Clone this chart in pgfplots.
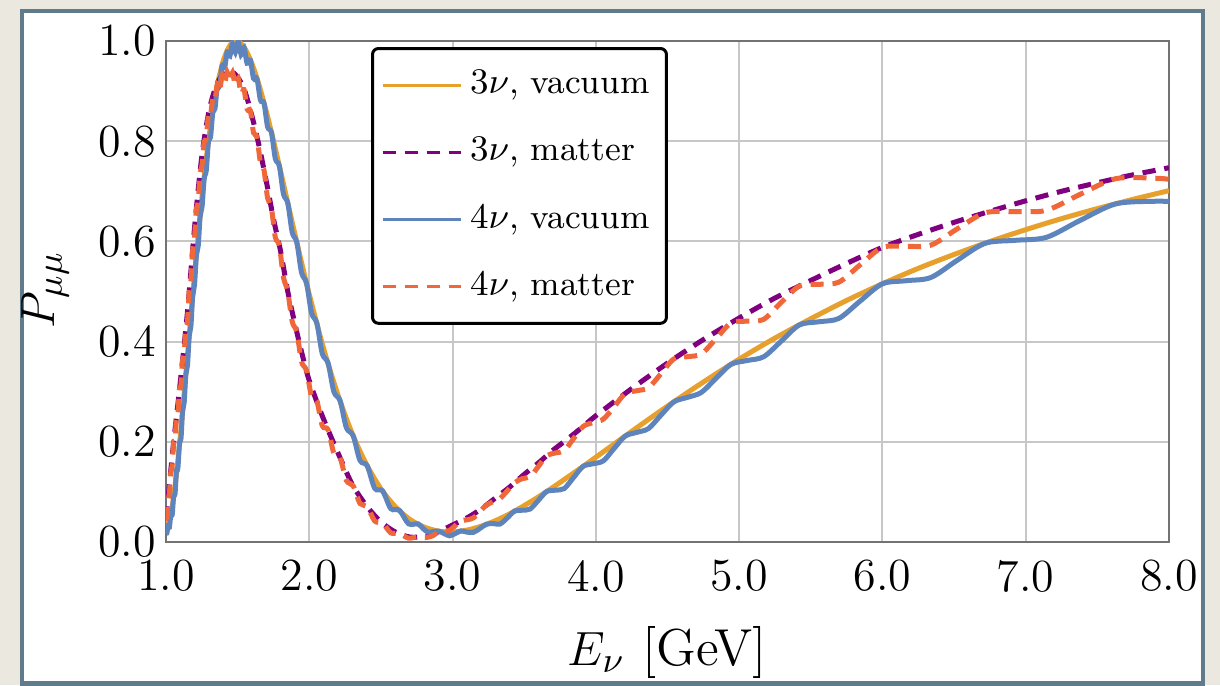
\documentclass[border=0pt]{standalone}
\usepackage{pgfplots}
\usepackage{pgfplotstable}
\pgfplotsset{compat=1.18}
\definecolor{bgbeige}{HTML}{EBE8E0}
\definecolor{framecol}{HTML}{607B8C}
\definecolor{cOrange}{RGB}{232,160,45}
\definecolor{cPurple}{RGB}{128,0,128}
\definecolor{cBlue}{RGB}{94,132,190}
\definecolor{cRed}{RGB}{240,104,58}

\pgfplotstableread{
x y
1.00 0.021
1.05 0.0825
1.10 0.2115
1.15 0.3722
1.20 0.5364
1.25 0.6852
1.30 0.8081
1.35 0.9000
1.40 0.9608
1.45 0.9928
1.50 0.9995
1.55 0.9854
1.60 0.9547
1.65 0.9115
1.70 0.8592
1.75 0.8011
1.80 0.7396
1.85 0.6766
1.90 0.6141
1.95 0.5529
2.00 0.4941
2.10 0.3860
2.20 0.2938
2.30 0.2162
2.40 0.1543
2.50 0.1062
2.60 0.0706
2.70 0.0455
2.80 0.0300
2.90 0.0218
3.00 0.0200
3.10 0.0237
3.20 0.0315
3.30 0.0427
3.40 0.0564
3.50 0.0727
3.60 0.0901
3.70 0.1090
3.80 0.1288
3.90 0.1487
4.00 0.1692
4.25 0.2208
4.50 0.2712
4.75 0.3192
5.00 0.3649
5.25 0.4070
5.50 0.4456
5.75 0.4821
6.00 0.5154
6.25 0.5461
6.50 0.5739
6.75 0.5997
7.00 0.6234
7.25 0.6454
7.50 0.6654
7.75 0.6840
8.00 0.7013
}\tvac

\pgfplotstableread{
x y
1.00 0.045
1.05 0.19
1.10 0.32
1.15 0.46
1.20 0.63
1.25 0.77
1.30 0.86
1.35 0.91
1.40 0.935
1.45 0.94
1.50 0.928
1.55 0.90
1.60 0.85
1.65 0.79
1.70 0.72
1.75 0.645
1.80 0.58
1.85 0.50
1.90 0.435
1.95 0.375
2.00 0.322
2.10 0.245
2.20 0.178
2.30 0.115
2.40 0.072
2.50 0.040
2.60 0.020
2.70 0.010
2.80 0.011
2.90 0.020
3.00 0.034
3.10 0.048
3.20 0.066
3.30 0.088
3.40 0.110
3.50 0.135
3.60 0.158
3.70 0.183
3.80 0.205
3.90 0.228
4.00 0.252
4.25 0.306
4.50 0.357
4.75 0.404
5.00 0.447
5.25 0.487
5.50 0.522
5.75 0.556
6.00 0.588
6.25 0.614
6.50 0.638
6.75 0.660
7.00 0.681
7.25 0.700
7.50 0.717
7.75 0.733
8.00 0.747
}\tmat

\pgfplotstableread{
x y
1.000 0.016
1.006 0.0177
1.015 0.0304
1.024 0.0297
1.033 0.0520
1.043 0.0538
1.053 0.0902
1.063 0.0960
1.073 0.1418
1.083 0.1476
1.094 0.1960
1.105 0.2076
1.115 0.2597
1.127 0.2783
1.138 0.3336
1.150 0.3522
1.162 0.4116
1.174 0.4310
1.186 0.4904
1.199 0.5131
1.212 0.5721
1.225 0.5908
1.238 0.6495
1.252 0.6701
1.266 0.7245
1.281 0.7414
1.296 0.7983
1.311 0.8083
1.326 0.8559
1.342 0.8653
1.358 0.9097
1.375 0.9104
1.392 0.9511
1.409 0.9466
1.427 0.9781
1.446 0.9702
1.464 0.9947
1.484 0.9774
1.504 0.9994
1.524 0.9727
1.545 0.9868
1.566 0.9556
1.589 0.9615
1.611 0.9252
1.635 0.9245
1.659 0.8821
1.684 0.8759
1.709 0.8287
1.736 0.8174
1.763 0.7651
1.791 0.7507
1.820 0.6944
1.850 0.6766
1.881 0.6179
1.913 0.5982
1.946 0.5378
1.981 0.5164
2.016 0.4568
2.053 0.4368
2.091 0.3757
2.131 0.3574
2.172 0.2996
2.215 0.2822
2.259 0.2280
2.306 0.2125
2.354 0.1628
2.404 0.1524
2.457 0.1069
2.512 0.1019
2.569 0.0666
2.630 0.0631
2.693 0.0363
2.759 0.0364
2.793 0.0271
2.828 0.0197
2.864 0.0208
2.901 0.0218
2.939 0.0171
2.978 0.0124
3.018 0.0167
3.059 0.0222
3.101 0.0197
3.145 0.0192
3.189 0.0266
3.235 0.0354
3.283 0.0368
3.331 0.0359
3.381 0.0478
3.433 0.0618
3.486 0.0634
3.541 0.0658
3.598 0.0828
3.656 0.1007
3.717 0.1034
3.779 0.1066
3.844 0.1286
3.911 0.1510
3.980 0.1561
4.052 0.1619
4.126 0.1862
4.204 0.2113
4.284 0.2187
4.367 0.2264
4.453 0.2527
4.544 0.2796
4.637 0.2885
4.735 0.2983
4.837 0.3261
4.943 0.3545
5.055 0.3622
5.171 0.3697
5.293 0.4006
5.420 0.4332
5.554 0.4395
5.695 0.4461
5.843 0.4805
5.999 0.5153
6.164 0.5215
6.337 0.5278
6.521 0.5621
6.716 0.5962
6.923 0.6021
7.143 0.6080
7.378 0.6416
7.628 0.6749
7.896 0.6801
8.000 0.6796
}\svac

\pgfplotstableread{
x y
1.000 0.050
1.006 0.0476
1.015 0.0815
1.024 0.0974
1.033 0.1373
1.043 0.1523
1.053 0.1978
1.063 0.2038
1.073 0.2498
1.083 0.2558
1.094 0.3044
1.105 0.314
1.115 0.362
1.127 0.3756
1.138 0.4264
1.150 0.44
1.162 0.5008
1.174 0.5216
1.186 0.5824
1.199 0.6066
1.212 0.6636
1.225 0.68
1.238 0.7364
1.252 0.7536
1.266 0.7988
1.281 0.8058
1.296 0.8528
1.311 0.851
1.326 0.886
1.342 0.882
1.358 0.914
1.375 0.9025
1.392 0.931
1.409 0.9159
1.427 0.9377
1.446 0.9196
1.464 0.9366
1.484 0.9118
1.504 0.9258
1.524 0.8946
1.545 0.9028
1.566 0.864
1.589 0.861
1.611 0.8168
1.635 0.808
1.659 0.7574
1.684 0.7424
1.709 0.6865
1.736 0.666
1.763 0.6081
1.791 0.5917
1.820 0.528
1.850 0.50
1.881 0.4397
1.913 0.4194
1.946 0.3598
1.981 0.3421
2.016 0.2897
2.053 0.2812
2.091 0.2319
2.131 0.2242
2.172 0.1768
2.215 0.1686
2.259 0.1228
2.306 0.1124
2.354 0.0768
2.404 0.0707
2.457 0.0418
2.512 0.0376
2.569 0.0182
2.630 0.0170
2.693 0.0077
2.759 0.0106
2.793 0.0089
2.828 0.0095
2.864 0.0128
2.901 0.0201
2.939 0.0215
2.978 0.0229
3.018 0.0325
3.059 0.0423
3.101 0.0442
3.145 0.0481
3.189 0.0600
3.235 0.0737
3.283 0.0803
3.331 0.0868
3.381 0.1018
3.433 0.1183
3.486 0.1265
3.541 0.1304
3.598 0.1505
3.656 0.1720
3.717 0.1777
3.779 0.1824
3.844 0.2061
3.911 0.2306
3.980 0.2382
4.052 0.2452
4.126 0.2692
4.204 0.2961
4.284 0.3019
4.367 0.3079
4.453 0.3354
4.544 0.3653
4.637 0.3698
4.735 0.3752
4.837 0.4050
4.943 0.4372
5.055 0.4408
5.171 0.4444
5.293 0.4780
5.420 0.5108
5.554 0.5143
5.695 0.5185
5.843 0.5529
5.999 0.5879
6.164 0.5901
6.337 0.5924
6.521 0.6248
6.716 0.6570
6.923 0.6595
7.143 0.6619
7.378 0.6937
7.628 0.7252
7.896 0.7262
8.000 0.7240
}\smat

\begin{document}
\begin{tikzpicture}
\fill[bgbeige] (0,0) rectangle (305pt,171.25pt);
\fill[white] (5.5pt,0.3pt) rectangle (300.75pt,168.5pt);
\draw[framecol,line width=1.2pt] (5.5pt,0.3pt) rectangle (300.75pt,168.5pt);
\begin{axis}[
  at={(41.5pt,35.75pt)}, anchor=south west,
  scale only axis, width=250.75pt, height=125.25pt,
  xmin=1, xmax=8, ymin=0, ymax=1,
  xtick={1,2,3,4,5,6,7,8},
  xticklabels={1.0,2.0,3.0,4.0,5.0,6.0,7.0,8.0},
  ytick={0,0.2,0.4,0.6,0.8,1},
  yticklabels={0.0,0.2,0.4,0.6,0.8,1.0},
  grid=major,
  major grid style={draw=black!22, line width=0.5pt},
  axis line style={draw=black!55, line width=0.5pt},
  tick style={draw=none},
  tick label style={font=\fontsize{11.5}{13}\selectfont},
  xticklabel style={yshift=-1pt},
  yticklabel style={xshift=1pt},
  xlabel={$E_\nu$ [GeV]},
  ylabel={$P_{\mu\mu}$},
  label style={font=\fontsize{13}{15}\selectfont},
  xlabel style={at={(axis description cs:0.5,-0.2196)}, anchor=center},
  ylabel style={at={(axis description cs:-0.1206,0.503)}, anchor=center},
  legend image code/.code={\draw[#1, line width=0.7pt] (0pt,0pt) -- (19.5pt,0pt);},
  legend cell align=left,
  legend style={at={(axis description cs:0.2044,0.988)}, anchor=north west,
    draw=black, line width=0.75pt, rounded corners=1.5pt,
    inner xsep=2.2pt, inner ysep=3.5pt, row sep=5.5pt,
    font=\fontsize{8.6}{10}\selectfont,
    /tikz/every even column/.append style={column sep=1.2pt}},
]
\addplot[cOrange, line width=1.25pt, smooth] table[x=x,y=y] {\tvac};
\addlegendentry{$3\nu$, vacuum}
\addplot[cPurple, line width=1.25pt, smooth, dash pattern=on 3.3pt off 2.2pt] table[x=x,y=y] {\tmat};
\addlegendentry{$3\nu$, matter}
\addplot[cBlue, line width=1.25pt, smooth] table[x=x,y=y] {\svac};
\addlegendentry{$4\nu$, vacuum}
\addplot[cRed, line width=1.25pt, smooth, dash pattern=on 3.3pt off 2.2pt] table[x=x,y=y] {\smat};
\addlegendentry{$4\nu$, matter}
\end{axis}
\pgfresetboundingbox
\useasboundingbox (0,0) rectangle (305pt,171.25pt);
\end{tikzpicture}
\end{document}
